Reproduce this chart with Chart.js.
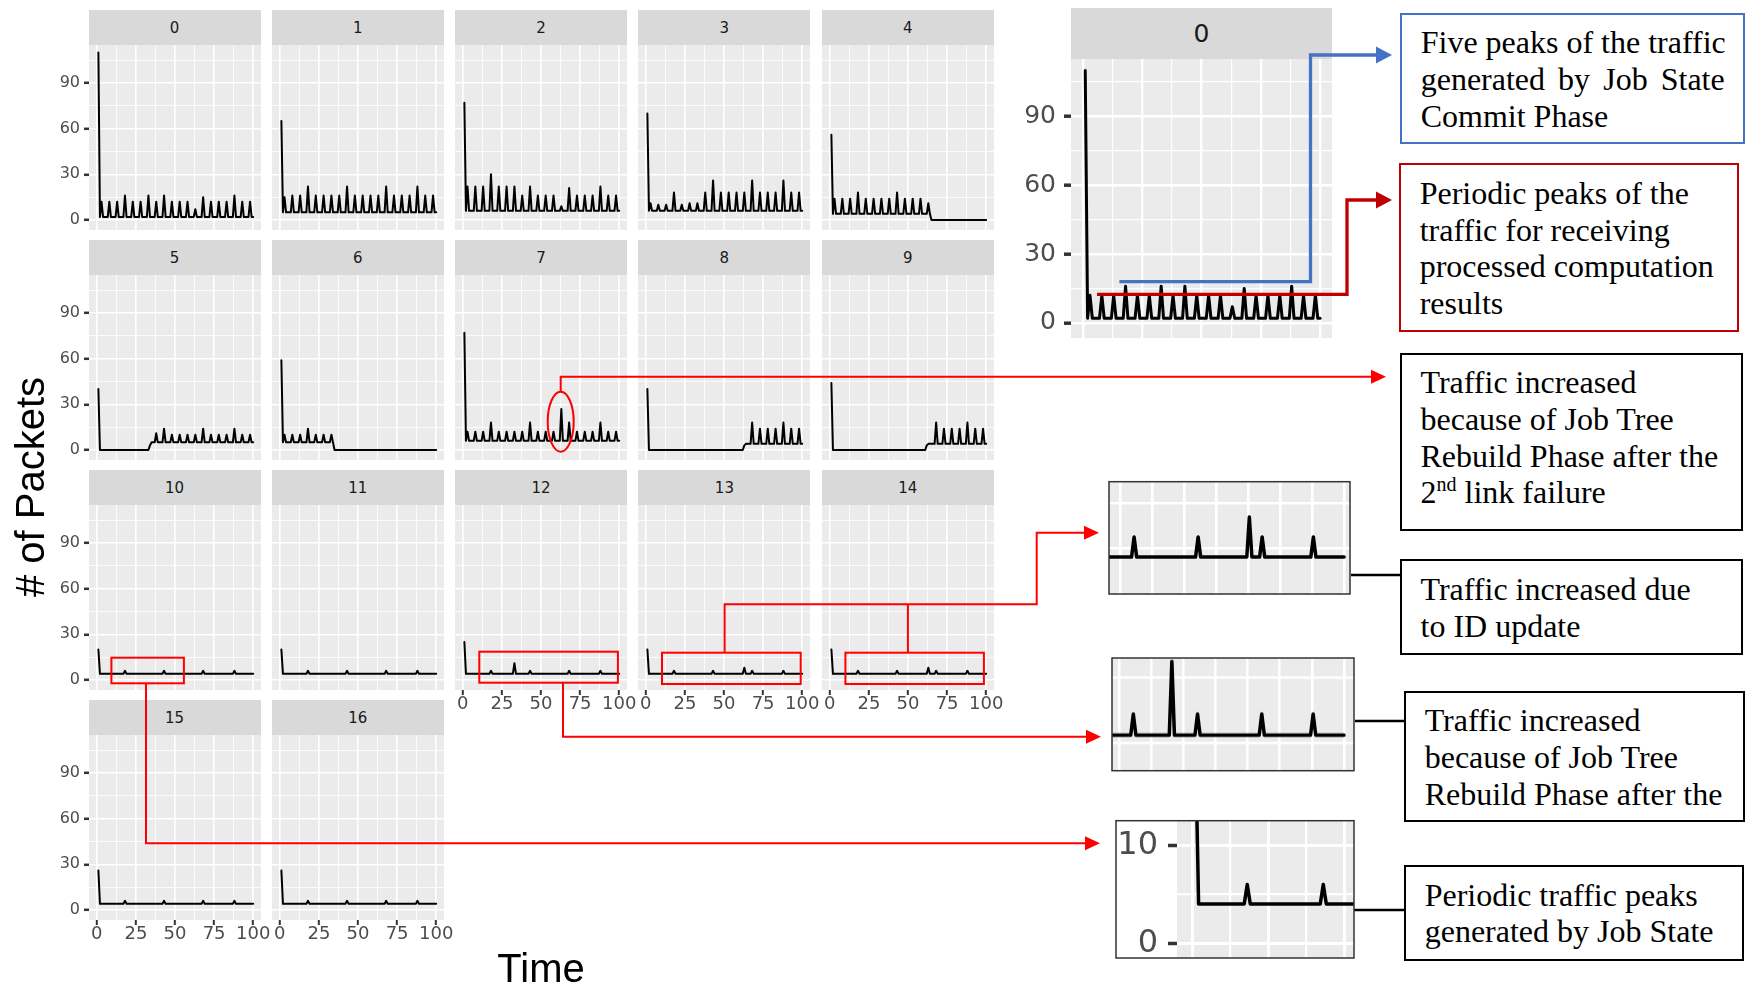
<!DOCTYPE html>
<html><head><meta charset="utf-8">
<script src="https://cdn.jsdelivr.net/npm/chart.js@4.4.1/dist/chart.umd.min.js"></script>
<style>
html,body{margin:0;padding:0;background:#fff;}
body{width:1746px;height:986px;position:relative;overflow:hidden;}
canvas{position:absolute;}
.strip{position:absolute;background:#D9D9D9;color:#1A1A1A;font-family:"DejaVu Sans";display:flex;align-items:center;justify-content:center;}
.box{position:absolute;box-sizing:border-box;font-family:"Liberation Serif";font-size:32px;line-height:36.7px;color:#000;padding:9.5px 0 0 19px;background:#fff;border:2px solid #000;white-space:nowrap;}
.ttl{position:absolute;font-family:"Liberation Sans";font-size:40px;line-height:40px;color:#000;white-space:nowrap;text-align:center;}
sup{font-size:20px;line-height:0;vertical-align:0;position:relative;top:-12px;}
</style></head><body>
<script>
// ---------- data ----------
const panelIds = ['0','1','2','3','4','5','6','7','8','9','10','11','12','13','14','15','16'];
const xBreaks = [0,25,50,75,100];
const yBreaks = [0,30,60,90];
const insetYBreaks = [0,10];
const time = [1,2,3,4,5,6,7,8,9,10,11,12,13,14,15,16,17,18,19,20,21,22,23,24,25,26,27,28,29,30,31,32,33,34,35,36,37,38,39,40,41,42,43,44,45,46,47,48,49,50,51,52,53,54,55,56,57,58,59,60,61,62,63,64,65,66,67,68,69,70,71,72,73,74,75,76,77,78,79,80,81,82,83,84,85,86,87,88,89,90,91,92,93,94,95,96,97,98,99,100];
const node0 = [110,2,12,2,2,2,2,12,2,2, 2,2,12,2,2,2,2,16,2,2, 2,2,12,2,2,2,2,12,2,2, 2,2,16,2,2,2,2,12,2,2, 2,2,16,2,2,2,2,12,2,2, 2,2,12,2,2,2,2,12,2,2, 2,2,7,2,2,2,2,15,2,2, 2,2,12,2,2,2,2,12,2,2, 2,2,12,2,2,2,2,16,2,2, 2,2,12,2,2,2,2,12,2,2];
const node1 = [65,5,15,5,5,5,5,16,5,5, 5,5,16,5,5,5,5,22,5,5, 5,5,16,5,5,5,5,16,5,5, 5,5,16,5,5,5,5,16,5,5, 5,5,22,5,5,5,5,16,5,5, 5,5,16,5,5,5,5,16,5,5, 5,5,16,5,5,5,5,22,5,5, 5,5,16,5,5,5,5,16,5,5, 5,5,16,5,5,5,5,22,5,5, 5,5,16,5,5,5,5,16,5,5];
const node2 = [77,6,22,6,6,6,6,22,6,6, 6,6,22,6,6,6,6,30,6,6, 6,6,22,6,6,6,6,22,6,6, 6,6,22,6,6,6,6,16,6,6, 6,6,22,6,6,6,6,16,6,6, 6,6,16,6,6,6,6,16,6,6, 6,6,9,6,6,6,6,21,6,6, 6,6,16,6,6,6,6,16,6,6, 6,6,16,6,6,6,6,22,6,6, 6,6,16,6,6,6,6,16,6,6];
const node3 = [70,6,11,6,6,6,6,10,6,6, 6,6,10,6,6,6,6,18,6,6, 6,6,10,6,6,6,6,11,6,6, 6,6,11,6,6,6,6,18,6,6, 6,6,26,6,6,6,6,18,6,6, 6,6,18,6,6,6,6,18,6,6, 6,6,18,6,6,6,6,26,6,6, 6,6,18,6,6,6,6,18,6,6, 6,6,18,6,6,6,6,26,6,6, 6,6,18,6,6,6,6,18,6,6];
const node4 = [56,4,14,4,4,4,4,14,4,4, 4,4,14,4,4,4,4,18,4,4, 4,4,14,4,4,4,4,14,4,4, 4,4,14,4,4,4,4,14,4,4, 4,4,18,4,4,4,4,14,4,4, 4,4,14,4,4,4,4,14,4,4, 4,4,11,4,0,0,0,0,0,0, 0,0,0,0,0,0,0,0,0,0, 0,0,0,0,0,0,0,0,0,0, 0,0,0,0,0,0,0,0,0,0];
const node5 = [40,0,0,0,0,0,0,0,0,0, 0,0,0,0,0,0,0,0,0,0, 0,0,0,0,0,0,0,0,0,0, 0,0,0,3,5,5,5,11,5,5, 5,5,14,5,5,5,5,10,5,5, 5,5,10,5,5,5,5,10,5,5, 5,5,10,5,5,5,5,14,5,5, 5,5,10,5,5,5,5,10,5,5, 5,5,10,5,5,5,5,14,5,5, 5,5,10,5,5,5,5,10,5,5];
const node6 = [59,5,10,5,5,5,5,10,5,5, 5,5,10,5,5,5,5,14,5,5, 5,5,10,5,5,5,5,10,5,5, 5,5,10,5,0,0,0,0,0,0, 0,0,0,0,0,0,0,0,0,0, 0,0,0,0,0,0,0,0,0,0, 0,0,0,0,0,0,0,0,0,0, 0,0,0,0,0,0,0,0,0,0, 0,0,0,0,0,0,0,0,0,0, 0,0,0,0,0,0,0,0,0,0];
const node7 = [77,6,12,6,6,6,6,12,6,6, 6,6,12,6,6,6,6,18,6,6, 6,6,12,6,6,6,6,12,6,6, 6,6,12,6,6,6,6,12,6,6, 6,6,18,6,6,6,6,12,6,6, 6,6,12,6,6,6,6,12,6,6, 6,6,27,6,6,6,6,18,6,6, 6,6,12,6,6,6,6,12,6,6, 6,6,12,6,6,6,6,18,6,6, 6,6,12,6,6,6,6,12,6,6];
const node8 = [40,0,0,0,0,0,0,0,0,0, 0,0,0,0,0,0,0,0,0,0, 0,0,0,0,0,0,0,0,0,0, 0,0,0,0,0,0,0,0,0,0, 0,0,0,0,0,0,0,0,0,0, 0,0,0,0,0,0,0,0,0,0, 0,0,3,4,4,4,4,18,4,4, 4,4,14,4,4,4,4,14,4,4, 4,4,14,4,4,4,4,18,4,4, 4,4,14,4,4,4,4,14,4,4];
const node9 = [44,0,0,0,0,0,0,0,0,0, 0,0,0,0,0,0,0,0,0,0, 0,0,0,0,0,0,0,0,0,0, 0,0,0,0,0,0,0,0,0,0, 0,0,0,0,0,0,0,0,0,0, 0,0,0,0,0,0,0,0,0,0, 0,3,4,4,4,4,4,18,4,4, 4,4,14,4,4,4,4,14,4,4, 4,4,14,4,4,4,4,18,4,4, 4,4,14,4,4,4,4,14,4,4];
const node10 = [20,4,4,4,4,4,4,4,4,4, 4,4,4,4,4,4,4,6,4,4, 4,4,4,4,4,4,4,4,4,4, 4,4,4,4,4,4,4,4,4,4, 4,4,6,4,4,4,4,4,4,4, 4,4,4,4,4,4,4,4,4,4, 4,4,4,4,4,4,4,6,4,4, 4,4,4,4,4,4,4,4,4,4, 4,4,4,4,4,4,4,6,4,4, 4,4,4,4,4,4,4,4,4,4];
const node11 = [20,4,4,4,4,4,4,4,4,4, 4,4,4,4,4,4,4,6,4,4, 4,4,4,4,4,4,4,4,4,4, 4,4,4,4,4,4,4,4,4,4, 4,4,6,4,4,4,4,4,4,4, 4,4,4,4,4,4,4,4,4,4, 4,4,4,4,4,4,4,6,4,4, 4,4,4,4,4,4,4,4,4,4, 4,4,4,4,4,4,4,6,4,4, 4,4,4,4,4,4,4,4,4,4];
const node12 = [25,4,4,4,4,4,4,4,4,4, 4,4,4,4,4,4,4,6,4,4, 4,4,4,4,4,4,4,4,4,4, 4,4,11,4,4,4,4,4,4,4, 4,4,6,4,4,4,4,4,4,4, 4,4,4,4,4,4,4,4,4,4, 4,4,4,4,4,4,4,6,4,4, 4,4,4,4,4,4,4,4,4,4, 4,4,4,4,4,4,4,6,4,4, 4,4,4,4,4,4,4,4,4,4];
const node13 = [20,4,4,4,4,4,4,4,4,4, 4,4,4,4,4,4,4,6,4,4, 4,4,4,4,4,4,4,4,4,4, 4,4,4,4,4,4,4,4,4,4, 4,4,6,4,4,4,4,4,4,4, 4,4,4,4,4,4,4,4,4,4, 4,4,8,4,4,4,4,6,4,4, 4,4,4,4,4,4,4,4,4,4, 4,4,4,4,4,4,4,6,4,4, 4,4,4,4,4,4,4,4,4,4];
const node14 = [20,4,4,4,4,4,4,4,4,4, 4,4,4,4,4,4,4,6,4,4, 4,4,4,4,4,4,4,4,4,4, 4,4,4,4,4,4,4,4,4,4, 4,4,6,4,4,4,4,4,4,4, 4,4,4,4,4,4,4,4,4,4, 4,4,8,4,4,4,4,6,4,4, 4,4,4,4,4,4,4,4,4,4, 4,4,4,4,4,4,4,6,4,4, 4,4,4,4,4,4,4,4,4,4];
const node15 = [26,4,4,4,4,4,4,4,4,4, 4,4,4,4,4,4,4,6,4,4, 4,4,4,4,4,4,4,4,4,4, 4,4,4,4,4,4,4,4,4,4, 4,4,6,4,4,4,4,4,4,4, 4,4,4,4,4,4,4,4,4,4, 4,4,4,4,4,4,4,6,4,4, 4,4,4,4,4,4,4,4,4,4, 4,4,4,4,4,4,4,6,4,4, 4,4,4,4,4,4,4,4,4,4];
const node16 = [26,4,4,4,4,4,4,4,4,4, 4,4,4,4,4,4,4,6,4,4, 4,4,4,4,4,4,4,4,4,4, 4,4,4,4,4,4,4,4,4,4, 4,4,6,4,4,4,4,4,4,4, 4,4,4,4,4,4,4,4,4,4, 4,4,4,4,4,4,4,6,4,4, 4,4,4,4,4,4,4,4,4,4, 4,4,4,4,4,4,4,6,4,4, 4,4,4,4,4,4,4,4,4,4];
const nodes = [node0,node1,node2,node3,node4,node5,node6,node7,node8,node9,node10,node11,node12,node13,node14,node15,node16];

// ---------- helpers ----------
const gridX = [0,12.5,25,37.5,50,62.5,75,87.5,100];
const gridY = [0,15,30,45,60,75,90,105];
const M = 24;
Chart.register({
  id: 'panelBg',
  beforeDraw(c, a, o) { const r = c.chartArea, x = c.ctx; x.save(); x.fillStyle = o.color || '#EBEBEB'; x.fillRect(r.left, r.top, r.width, r.height); x.restore(); }
});
const isIn = (arr, v) => arr.some(m => Math.abs(m - v) < 1e-6);
function mkAxis(o) {
  return {
    type: 'linear', position: o.horizontal ? 'bottom' : 'left',
    min: o.range[0], max: o.range[1],
    afterBuildTicks: s => { s.ticks = o.ticks.map(v => ({ value: v })); },
    afterFit: s => { if (o.horizontal) s.height = o.size; else s.width = o.size; },
    border: { display: false },
    grid: {
      color: '#FFFFFF',
      lineWidth: c => (c.tick && isIn(o.majors, c.tick.value)) ? o.gMaj : o.gMin,
      drawTicks: !!o.show, tickLength: o.tl || 0, tickWidth: o.tw || 1,
      tickColor: c => (c.tick && isIn(o.labels || [], c.tick.value)) ? '#333333' : 'rgba(0,0,0,0)'
    },
    ticks: {
      display: !!o.show, autoSkip: false, maxRotation: 0, minRotation: 0, padding: o.pad || 0,
      color: '#4D4D4D', font: { family: 'DejaVu Sans', size: o.font || 12, lineHeight: 0.85 },
      callback: v => isIn(o.labels || [], v) ? String(v) : ''
    }
  };
}
function mkChart(p) {
  const yW = p.y.size || 0, xH = p.x.size || 0;
  const W = M + yW + p.w + M, H = M + p.h + xH + M;
  const cv = document.createElement('canvas');
  cv.width = W; cv.height = H;
  Object.assign(cv.style, { left: (p.left - yW - M) + 'px', top: (p.top - M) + 'px', width: W + 'px', height: H + 'px' });
  document.body.appendChild(cv);
  new Chart(cv, {
    type: 'line',
    data: { datasets: [{ data: time.map((t, i) => ({ x: t, y: p.values[i] })), borderColor: '#000000', borderWidth: p.lw, pointRadius: 0, tension: 0, borderJoinStyle: 'round', borderCapStyle: 'round', fill: false }] },
    options: {
      responsive: false, animation: false, devicePixelRatio: 1, events: [],
      layout: { padding: M },
      plugins: { legend: { display: false }, tooltip: { enabled: false }, title: { display: false }, panelBg: { color: '#EBEBEB' } },
      scales: { x: mkAxis(Object.assign({ horizontal: true }, p.x)), y: mkAxis(Object.assign({ horizontal: false }, p.y)) }
    }
  });
}
function strip(left, top, w, h, text, size) {
  const d = document.createElement('div');
  d.className = 'strip';
  Object.assign(d.style, { left: left + 'px', top: top + 'px', width: w + 'px', height: h + 'px', fontSize: size + 'px' });
  d.textContent = text;
  document.body.appendChild(d);
}

// ---------- facet grid ----------
const COLS = [88.5, 271.8, 455.1, 638.4, 821.7];
const ROWS = [10, 240, 470, 700];
const PW = 172, SH = 35, PH = 185;
const XR = [-5, 105], YR = [-6.6, 115];
nodes.forEach((vals, i) => {
  const r = Math.floor(i / 5), c = i % 5;
  const L = COLS[c], T = ROWS[r];
  strip(L, T, PW, SH, panelIds[i], 15);
  const hasY = c === 0, hasX = i >= 12;
  mkChart({
    left: L, top: T + SH, w: PW, h: PH, values: vals, lw: 2,
    x: { range: XR, ticks: gridX, majors: xBreaks, labels: hasX ? xBreaks : [], size: hasX ? 32 : 0, show: hasX, font: 18, tl: 5, tw: 2, pad: 2, gMaj: 1.6, gMin: 0.8 },
    y: { range: YR, ticks: gridY, majors: yBreaks, labels: hasY ? yBreaks : [], size: hasY ? 50 : 0, show: hasY, font: 16, tl: 5, tw: 2.5, pad: 4, gMaj: 1.6, gMin: 0.8 }
  });
});

// ---------- zoomed panel 0 ----------
strip(1071, 8, 261, 51, panelIds[0], 25);
mkChart({
  left: 1071, top: 59, w: 261, h: 279, values: node0, lw: 3,
  x: { range: XR, ticks: gridX, majors: xBreaks, labels: [], size: 0, show: false, gMaj: 2.4, gMin: 1.2 },
  y: { range: YR, ticks: gridY, majors: yBreaks, labels: yBreaks, size: 51, show: true, font: 25, tl: 7, tw: 3.5, pad: 8, gMaj: 2.4, gMin: 1.2 }
});

// ---------- insets ----------
mkChart({
  left: 1109, top: 481.7, w: 241, h: 112.3, values: node13, lw: 3.5,
  x: { range: [8.2, 102.3], ticks: [12.5,25,37.5,50,62.5,75,87.5,100], majors: [], size: 0, show: false, gMaj: 2.6, gMin: 2.6 },
  y: { range: [0.3, 11.5], ticks: [4.9, 9.4], majors: [], size: 0, show: false, gMaj: 2.6, gMin: 2.6 }
});
mkChart({
  left: 1112, top: 658, w: 242, h: 112.7, values: node12, lw: 3.5,
  x: { range: [9.7, 103.9], ticks: [12.5,25,37.5,50,62.5,75,87.5,100], majors: [], size: 0, show: false, gMaj: 2.6, gMin: 2.6 },
  y: { range: [0.6, 11.3], ticks: [3.2, 9.5], majors: [], size: 0, show: false, gMaj: 2.6, gMin: 2.6 }
});
mkChart({
  left: 1177, top: 820.7, w: 177, h: 137.3, values: node10, lw: 3.5,
  x: { range: [-5.1, 53.1], ticks: [0,12.5,25,37.5,50], majors: [0,25,50], size: 0, show: false, gMaj: 3, gMin: 2.2 },
  y: { range: [-1.5, 12.47], ticks: [0,5,10], majors: insetYBreaks, labels: insetYBreaks, size: 61, show: true, font: 32, tl: 9, tw: 3.5, pad: 10, gMaj: 3, gMin: 2.2 }
});
</script>

<!-- axis titles -->
<div class="ttl" style="left:-120px;top:466.7px;width:300px;transform:rotate(-90deg);">#&nbsp;of Packets</div>
<div class="ttl" style="left:441px;top:948px;width:200px;">Time</div>

<!-- annotation boxes -->
<div class="box" style="left:1399.7px;top:12.7px;width:345px;height:131.3px;border-color:#4472C4;">
  <div>Five peaks of the traffic</div>
  <div style="display:flex;justify-content:space-between;width:304px;"><span>generated</span><span>by</span><span>Job</span><span>State</span></div>
  <div>Commit Phase</div>
</div>
<div class="box" style="left:1398.7px;top:163.3px;width:340px;height:168.4px;border-color:#C00000;">
  <div>Periodic peaks of the</div><div>traffic for receiving</div><div>processed computation</div><div>results</div>
</div>
<div class="box" style="left:1399.5px;top:352.7px;width:343.2px;height:178px;">
  <div>Traffic increased</div><div>because of Job Tree</div><div>Rebuild Phase after the</div><div>2<sup>nd</sup> link failure</div>
</div>
<div class="box" style="left:1399.5px;top:559.3px;width:343.2px;height:95.7px;">
  <div>Traffic increased due</div><div>to ID update</div>
</div>
<div class="box" style="left:1403.7px;top:690.7px;width:341px;height:131px;">
  <div>Traffic increased</div><div>because of Job Tree</div><div>Rebuild Phase after the</div>
</div>
<div class="box" style="left:1403.7px;top:865px;width:340.5px;height:95.7px;">
  <div>Periodic traffic peaks</div><div>generated by Job State</div>
</div>

<!-- connectors and highlights -->
<svg width="1746" height="986" style="position:absolute;left:0;top:0;z-index:10;overflow:visible">
  <polyline points="1119.4,281.7 1310.5,281.7 1310.5,55 1378,55" fill="none" stroke="#4472C4" stroke-width="3.3"/>
  <polygon points="1376,46.5 1392,55 1376,63.5" fill="#4472C4"/>
  <polyline points="1097,294.3 1347,294.3 1347,200 1378,200" fill="none" stroke="#C00000" stroke-width="3.3"/>
  <polygon points="1376,191.5 1392,200 1376,208.5" fill="#C00000"/>
  <ellipse cx="560.7" cy="421.7" rx="13" ry="30" fill="none" stroke="#FF0000" stroke-width="2"/>
  <polyline points="560.7,391.7 560.7,376.7 1373,376.7" fill="none" stroke="#FF0000" stroke-width="2"/>
  <polygon points="1371,369.7 1386,376.7 1371,383.7" fill="#FF0000"/>
  <rect x="111.4" y="657.7" width="72.5" height="25.6" fill="none" stroke="#FF0000" stroke-width="2"/>
  <rect x="479.3" y="651.7" width="138.6" height="31" fill="none" stroke="#FF0000" stroke-width="2"/>
  <rect x="662" y="652.7" width="138.7" height="31.3" fill="none" stroke="#FF0000" stroke-width="2"/>
  <rect x="845.4" y="652.7" width="138.5" height="31.3" fill="none" stroke="#FF0000" stroke-width="2"/>
  <polyline points="146,683.3 146,843.3 1087,843.3" fill="none" stroke="#FF0000" stroke-width="2"/>
  <polygon points="1085,836.3 1100,843.3 1085,850.3" fill="#FF0000"/>
  <polyline points="563,682.7 563,736.7 1088,736.7" fill="none" stroke="#FF0000" stroke-width="2"/>
  <polygon points="1086,729.7 1101,736.7 1086,743.7" fill="#FF0000"/>
  <polyline points="724.6,652.7 724.6,604.3 1036.7,604.3 1036.7,532.7 1086,532.7" fill="none" stroke="#FF0000" stroke-width="2"/>
  <polyline points="907.9,604.3 907.9,652.7" fill="none" stroke="#FF0000" stroke-width="2"/>
  <polygon points="1084,525.7 1099,532.7 1084,539.7" fill="#FF0000"/>
  <line x1="1351" y1="575" x2="1400" y2="575" stroke="#000" stroke-width="2.5"/>
  <line x1="1355" y1="721" x2="1404" y2="721" stroke="#000" stroke-width="2.5"/>
  <line x1="1354" y1="910" x2="1404" y2="910" stroke="#000" stroke-width="2.5"/>
  <rect x="1109" y="481.7" width="241" height="112.3" fill="none" stroke="#333" stroke-width="1.5"/>
  <rect x="1112" y="658" width="242" height="112.7" fill="none" stroke="#333" stroke-width="1.5"/>
  <rect x="1116" y="820.7" width="238" height="137.3" fill="none" stroke="#333" stroke-width="1.5"/>
</svg>
</body></html>
